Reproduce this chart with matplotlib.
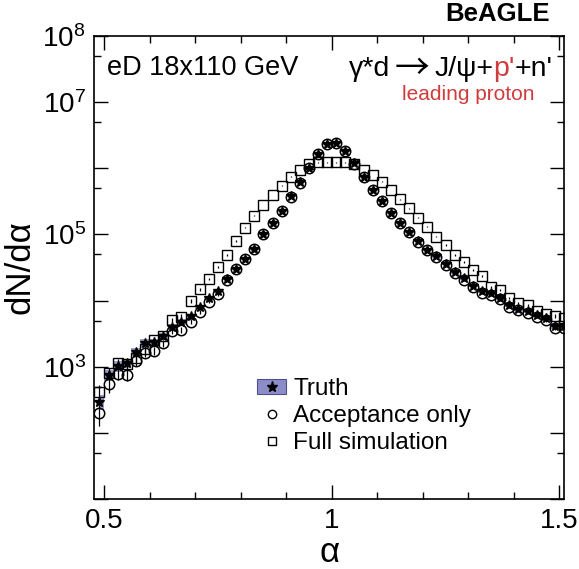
import numpy as np
import matplotlib
matplotlib.use("Agg")
import matplotlib.pyplot as plt
from matplotlib.lines import Line2D
from matplotlib.patches import Patch
from matplotlib.legend_handler import HandlerTuple
from matplotlib.ticker import FixedLocator, NullFormatter, FixedFormatter

plt.rcParams['font.family'] = ['Liberation Sans', 'DejaVu Sans']
plt.rcParams['mathtext.fontset'] = 'custom'
plt.rcParams['mathtext.rm'] = 'Liberation Sans'
plt.rcParams['mathtext.it'] = 'Liberation Sans:italic'

RED = '#d03c3c'

# bin centres in alpha (bin width 0.02)
alpha = np.linspace(0.49, 1.51, 52)

truth = [298, 753, 1030, 1140, 1690, 2270, 2370, 2920, 4000, 4750,
         5860, 8010, 10950, 13970, 21200, 30500, 43200, 61200, 101300, 148500,
         229400, 373300, 611500, 1.016e6, 1.653e6, 2.316e6, 2.44e6, 1.816e6, 1.184e6, 743000,
         468000, 319300, 212500, 150100, 109800, 78900, 59100, 46400, 35700, 26600,
         21600, 16900, 13970, 12810, 10950, 8590, 7600, 6970, 6070, 5370,
         4070, 4150]

acceptance = [199, 545, 780, 753, 1226, 1636, 1735, 2267, 3477, 3600,
              4805, 6800, 9630, 12460, 20480, 29710, 42050, 60160, 100300, 147000,
              227800, 370700, 603000, 1.005e6, 1.64e6, 2.30e6, 2.43e6, 1.80e6, 1.175e6, 737000,
              463000, 316000, 210000, 148500, 108500, 77550, 58110, 45080, 34490, 25850,
              20480, 16230, 13170, 12160, 10470, 8094, 7216, 6570, 5716, 5097,
              3819, 3900]

full_sim = [421, 799, 1131, 1100, 1360, 1840, 2543, 2922, 5097, 5716,
            9870, 14820, 21200, 32520, 48850, 80290, 126200, 191500, 277800, 393200,
            547100, 743000, 938000, 1.144e6, 1.226e6, 1.226e6, 1.226e6, 1.226e6, 1.144e6, 938000,
            788000, 624500, 468000, 338700, 247600, 178600, 130700, 92300, 69140, 48850,
            38290, 29000, 23540, 16060, 14470, 10950, 9204, 8586, 6969, 6280,
            5857, 5465]

# relative uncertainties: band on truth, bars on the reconstructed samples
truth_rel_err = [0.25, 0.2, 0.18, 0.17, 0.15, 0.14, 0.13, 0.12, 0.11, 0.1,
                 0.09, 0.08, 0.07, 0.06, 0.05, 0.05, 0.04, 0.04, 0.03, 0.03,
                 0.02, 0.02, 0.02, 0.02, 0.02, 0.02, 0.02, 0.02, 0.02, 0.02,
                 0.02, 0.02, 0.02, 0.03, 0.03, 0.03, 0.04, 0.04, 0.04, 0.05,
                 0.05, 0.05, 0.06, 0.06, 0.06, 0.06, 0.07, 0.07, 0.07, 0.07,
                 0.08, 0.08]
meas_rel_err = [0.35, 0.25, 0.2, 0.2, 0.17, 0.15, 0.14, 0.12, 0.1, 0.1,
                0.08, 0.07, 0.06, 0.05, 0.04, 0.04, 0.03, 0.03, 0.02, 0.02,
                0.02, 0.01, 0.01, 0.01, 0.01, 0.01, 0.01, 0.01, 0.01, 0.01,
                0.01, 0.01, 0.02, 0.02, 0.02, 0.02, 0.03, 0.03, 0.03, 0.04,
                0.04, 0.04, 0.05, 0.05, 0.05, 0.05, 0.06, 0.06, 0.06, 0.06,
                0.07, 0.07]

truth = np.array(truth)
acceptance = np.array(acceptance)
full_sim = np.array(full_sim)

W, H = 579, 569
fig = plt.figure(figsize=(W / 100, H / 100), dpi=100)
ax = fig.add_axes([94 / W, 1 - 499.3 / H, (564.3 - 94) / W, (499.3 - 35.7) / H])

band_color = '#8c8cc8'
ax.fill_between(alpha, truth * (1 - np.array(truth_rel_err)), truth * (1 + np.array(truth_rel_err)),
                step='mid', color=band_color, alpha=0.85, lw=0, zorder=1)

ax.errorbar(alpha, full_sim, yerr=full_sim * np.array(meas_rel_err) * 0.8, fmt='s', ms=7.2,
            mfc='none', mec='black', mew=1.0, ecolor='black', elinewidth=0.9, zorder=2)
ax.errorbar(alpha, acceptance, yerr=acceptance * np.array(meas_rel_err), fmt='o', ms=7.5,
            mfc='none', mec='black', mew=1.1, ecolor='black', elinewidth=0.9, zorder=3)
ax.plot(alpha, truth, '*', color='black', ms=7.5, ls='none', zorder=4)

ax.set_yscale('log')
ax.set_xlim(0.478, 1.5108)
ax.set_ylim(10, 1e8)

ax.xaxis.set_major_locator(FixedLocator([0.5, 1.0, 1.5]))
ax.xaxis.set_major_formatter(FixedFormatter(['0.5', '1', '1.5']))
ax.xaxis.set_minor_locator(FixedLocator([0.6, 0.7, 0.8, 0.9, 1.1, 1.2, 1.3, 1.4]))

decades = [1e1, 1e2, 1e3, 1e4, 1e5, 1e6, 1e7, 1e8]
ax.yaxis.set_major_locator(FixedLocator(decades))
ax.yaxis.set_major_formatter(FixedFormatter(['', '', r'$10^{3}$', '', r'$10^{5}$', '', r'$10^{7}$', r'$10^{8}$']))
ax.yaxis.set_minor_locator(FixedLocator([5e1, 5e2, 5e3, 5e4, 5e5, 5e6, 5e7]))
ax.yaxis.set_minor_formatter(NullFormatter())

ax.tick_params(which='both', direction='in', top=True, right=True, width=1.0, labelsize=20)
ax.tick_params(which='major', length=10, pad=6)
ax.tick_params(which='minor', length=5)
for s in ax.spines.values():
    s.set_linewidth(1.2)

ax.set_ylabel('dN/dα', fontsize=25)
ax.yaxis.set_label_coords(-0.122, 0.5)
ax.set_xlabel('α', fontsize=25)
ax.xaxis.set_label_coords(0.5, -0.08)

# header texts (pixel coordinates)
fig.text(550, H - 14, 'BeAGLE', transform=None, ha='right', va='center',
         fontsize=18.5, fontweight='bold')
fig.text(107, H - 68, 'eD 18x110 GeV', transform=None, ha='left', va='center', fontsize=19.5)

# reaction label, built right to left so that p' can be coloured;
# gap is the space left to the right of each piece
renderer = fig.canvas.get_renderer()
x = 553
sans = ['Liberation Sans', 'DejaVu Sans']
parts = [("γ*d", 'black', sans, 20.5, 5, 0),
         ("→", 'black', ['Noto Sans CJK SC', 'DejaVu Sans'], 25, 5, -3),
         ("J/ψ+", 'black', sans, 20.5, 0, 0),
         ("p'", RED, sans, 20.5, 0, 0),
         ("+n'", 'black', sans, 20.5, 0, 0)]
for s, c, fam, size, gap, dy in reversed(parts):
    x -= gap
    t = fig.text(x, H - 76 + dy, s, transform=None, ha='right', va='baseline', color=c,
                 fontsize=size, family=fam)
    x -= t.get_window_extent(renderer).width
fig.text(534, H - 94, 'leading proton', transform=None, ha='right', va='center',
         color=RED, fontsize=15)

handles = [
    (Patch(facecolor=band_color, edgecolor='#50508a', lw=0.8),
     Line2D([], [], marker='*', color='black', ls='none', ms=8)),
    Line2D([], [], marker='o', mfc='none', mec='black', mew=1.0, ls='none', ms=6),
    Line2D([], [], marker='s', mfc='none', mec='black', mew=1.0, ls='none', ms=6),
]
ax.legend(handles, ['Truth', 'Acceptance only', 'Full simulation'],
          handler_map={tuple: HandlerTuple(ndivide=1)},
          loc='upper left', bbox_to_anchor=(257 / W, 1 - 378 / H), bbox_transform=fig.transFigure,
          frameon=False, fontsize=17.5, handlelength=1.2, handleheight=0.55,
          handletextpad=0.3, labelspacing=0.2, borderpad=0, borderaxespad=0)

fig.savefig('out.png', dpi=100)
